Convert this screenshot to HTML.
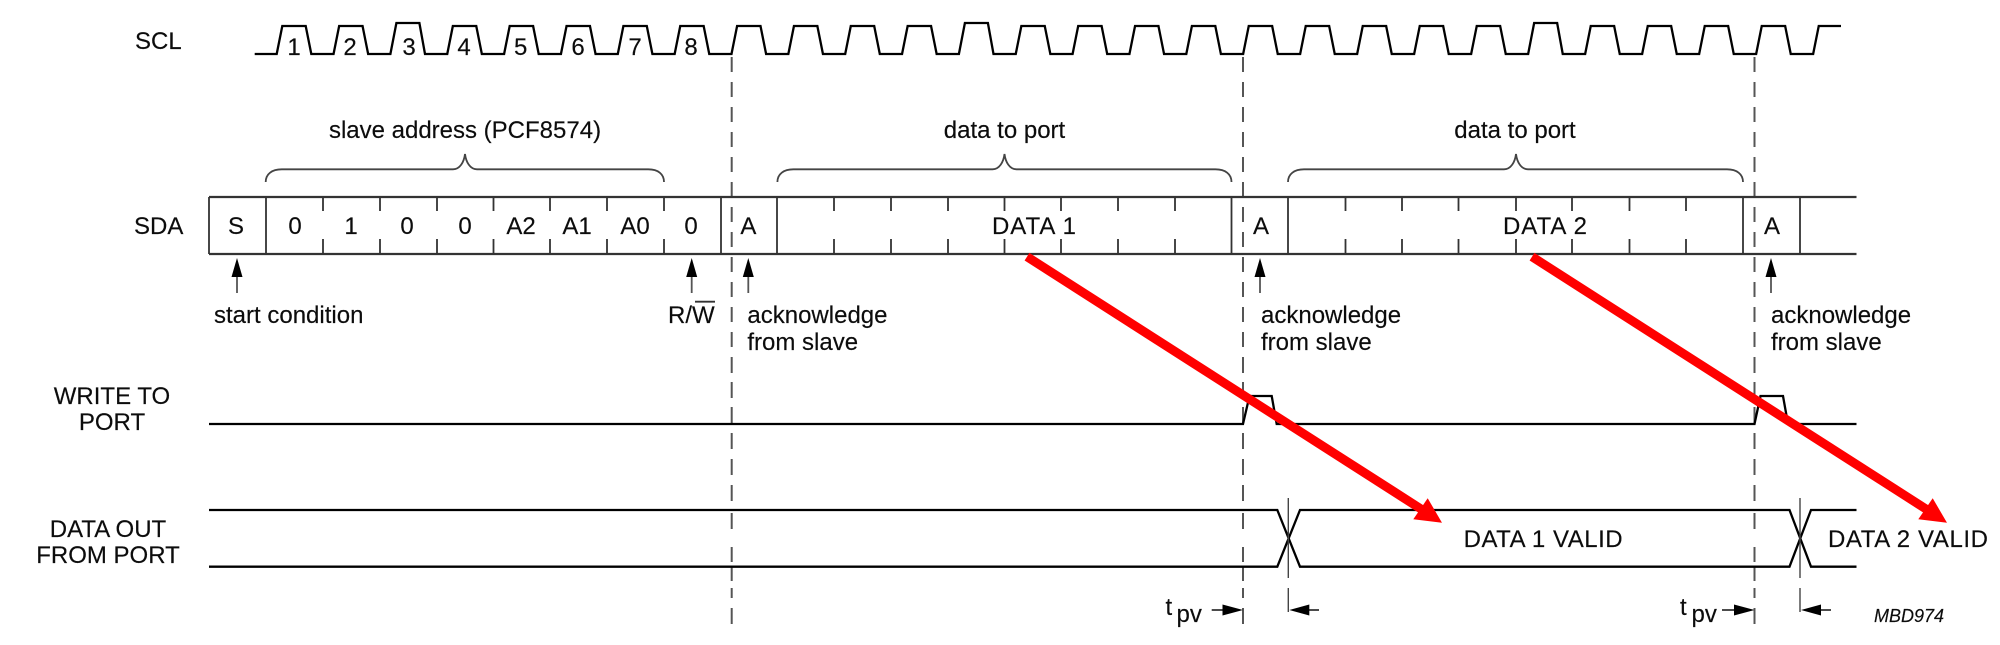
<!DOCTYPE html>
<html>
<head>
<meta charset="utf-8">
<style>
html,body{margin:0;padding:0;background:#fff;width:2000px;height:645px;overflow:hidden}
svg{display:block}
text{font-family:"Liberation Sans",sans-serif;font-size:24px;fill:#0c0c0c;stroke:#0c0c0c;stroke-width:.15px}
</style>
</head>
<body>
<svg width="2000" height="645" viewBox="0 0 2000 645" xmlns="http://www.w3.org/2000/svg">
<rect width="2000" height="645" fill="#fff"/>

<!-- dashed guides -->
<g stroke="#555" stroke-width="2" fill="none">
<path id="d1" d="M731.7 57v15M731.7 82v15M731.7 107v15M731.7 132v15M731.7 157v15M731.7 182v15M731.7 207v15M731.7 232v15M731.7 257v15M731.7 282v15M731.7 307v15M731.7 332v15M731.7 357v16M731.7 382v16M731.7 407v16M731.7 433v16M731.7 459v16M731.7 485v16M731.7 513v16M731.7 547v15M731.7 567v14M731.7 588v10M731.7 608v16"/>
<path d="M1243 57v15M1243 82v15M1243 107v15M1243 132v15M1243 157v15M1243 182v15M1243 207v15M1243 232v15M1243 257v15M1243 282v15M1243 307v15M1243 332v15M1243 357v16M1243 382v16M1243 407v16M1243 433v16M1243 459v16M1243 485v16M1243 513v16M1243 547v15M1243 567v14M1243 588v10M1243 608v16"/>
<path d="M1754.5 57v15M1754.5 82v15M1754.5 107v15M1754.5 132v15M1754.5 157v15M1754.5 182v15M1754.5 207v15M1754.5 232v15M1754.5 257v15M1754.5 282v15M1754.5 307v15M1754.5 332v15M1754.5 357v16M1754.5 382v16M1754.5 407v16M1754.5 433v16M1754.5 459v16M1754.5 485v16M1754.5 513v16M1754.5 547v15M1754.5 567v14M1754.5 588v10M1754.5 608v16"/>
</g>

<!-- SCL -->
<path fill="none" stroke="#000" stroke-width="2.3" stroke-linejoin="miter" d="M254.7 54H276.7
l5.6 -28h23.4l5.6 28h22.25
l5.6 -28h23.4l5.6 28h22.25
l6 -31h23l5.6 31h22.25
l5.6 -28h23.4l5.6 28h22.25
l5.6 -28h23.4l5.6 28h22.25
l5.6 -28h23.4l5.6 28h22.25
l5.6 -28h23.4l5.6 28h22.25
l5.6 -28h23.4l5.6 28h22.25
l5.6 -28h23.4l5.6 28h22.25
l5.6 -28h23.4l5.6 28h22.25
l5.6 -28h23.4l5.6 28h22.25
l5.6 -28h23.4l5.6 28h22.25
l6 -31h23l5.6 31h22.25
l5.6 -28h23.4l5.6 28h22.25
l5.6 -28h23.4l5.6 28h22.25
l5.6 -28h23.4l5.6 28h22.25
l5.6 -28h23.4l5.6 28h22.25
l5.6 -28h23.4l5.6 28h22.4
l5.6 -28h23.4l5.6 28h22.4
l5.6 -28h23.4l5.6 28h22.4
l5.6 -28h23.4l5.6 28h22.4
l5.6 -28h23.4l5.6 28h22.4
l6 -31h23l5.6 31h22.4
l5.6 -28h23.4l5.6 28h22.4
l5.6 -28h23.4l5.6 28h22.4
l5.6 -28h23.4l5.6 28h22.4
l5.6 -28h23.4l5.6 28h22.4
l5.6 -28H1841"/>

<!-- SDA box -->
<g stroke="#333" fill="none">
<path stroke-width="2.3" d="M209 197H1856.5M209 254H1856.5"/>
<path stroke-width="1.8" d="M209 197V254M266 197V254M721 197V254M777 197V254M1231.5 197V254M1288 197V254M1743 197V254M1800 197V254"/>
<path stroke-width="1.8" d="M323 197v14M323 239v15M380 197v14M380 239v15M437 197v14M437 239v15M493.5 197v14M493.5 239v15M550 197v14M550 239v15M607 197v14M607 239v15M664 197v14M664 239v15
M834 197v14M834 239v15M891 197v14M891 239v15M948 197v14M948 239v15M1004.5 197v14M1004.5 239v15M1061 197v14M1061 239v15M1118 197v14M1118 239v15M1175 197v14M1175 239v15
M1345.5 197v14M1345.5 239v15M1402 197v14M1402 239v15M1458.5 197v14M1458.5 239v15M1516 197v14M1516 239v15M1572 197v14M1572 239v15M1629.5 197v14M1629.5 239v15M1686 197v14M1686 239v15"/>
</g>

<!-- braces -->
<g stroke="#444" stroke-width="1.8" fill="none">
<path d="M265.7 182C265.7 174 272 169.3 281.7 169.3H453C460 169.3 464 162 465 154C466 162 470 169.3 477 169.3H648.3C658 169.3 664 174 664 182"/>
<path d="M777.4 182C777.4 174 783.7 169.3 793.4 169.3H992.5C999.5 169.3 1003.5 162 1004.5 154C1005.5 162 1009.5 169.3 1016.5 169.3H1215.5C1225.2 169.3 1231.5 174 1231.5 182"/>
<path d="M1288 182C1288 174 1294.3 169.3 1304 169.3H1504C1511 169.3 1515 162 1516 154C1517 162 1521 169.3 1528 169.3H1727C1736.7 169.3 1743 174 1743 182"/>
</g>

<!-- up arrows -->
<g stroke="#555" stroke-width="1.8" fill="none">
<path d="M237 276V293M691.7 276V293M748.3 276V293M1260 276V293M1771 276V293"/>
</g>
<g fill="#000">
<path d="M237 258l-5.5 19h11z"/>
<path d="M691.7 258l-5.5 19h11z"/>
<path d="M748.3 258l-5.5 19h11z"/>
<path d="M1260 258l-5.5 19h11z"/>
<path d="M1771 258l-5.5 19h11z"/>
</g>

<!-- write to port -->
<path fill="none" stroke="#000" stroke-width="2.3" d="M209 424H1243L1249.5 396H1271.7L1276.7 424H1754.5L1760.5 396H1783L1788 424H1856.5"/>

<!-- data out -->
<g fill="none" stroke="#000" stroke-width="2.3">
<path d="M209 510H1277.3L1300 566.7H1789.5L1811 510H1856.5"/>
<path d="M209 566.7H1277.3L1300 510H1789.5L1811 566.7H1856.5"/>
</g>
<g stroke="#444" stroke-width="1.4" fill="none">
<path d="M1288.3 498V578M1288.3 588V612M1800 498V578M1800 588V612"/>
</g>

<!-- tpv arrows -->
<g stroke="#333" stroke-width="1.8" fill="none">
<path d="M1211.7 610H1230M1300 610H1319M1722 610H1740M1812 610H1831"/>
</g>
<g fill="#000">
<path d="M1243 610l-20.5 -5.5v11z"/>
<path d="M1289.3 610l20 -5.5v11z"/>
<path d="M1754.5 610l-20.5 -5.5v11z"/>
<path d="M1801 610l20 -5.5v11z"/>
</g>

<!-- text -->
<text x="135" y="49">SCL</text>
<g text-anchor="middle">
<text x="294" y="55">1</text>
<text x="350" y="55">2</text>
<text x="409" y="55">3</text>
<text x="464" y="55">4</text>
<text x="520.7" y="55">5</text>
<text x="578" y="55">6</text>
<text x="635" y="55">7</text>
<text x="691" y="55">8</text>
<text x="465" y="138">slave address (PCF8574)</text>
<text x="1004.5" y="138">data to port</text>
<text x="1515" y="138">data to port</text>
<text x="236" y="234">S</text>
<text x="295" y="234">0</text>
<text x="351" y="234">1</text>
<text x="407" y="234">0</text>
<text x="465" y="234">0</text>
<text x="521" y="234">A2</text>
<text x="577" y="234">A1</text>
<text x="635" y="234">A0</text>
<text x="691" y="234">0</text>
<text x="748.4" y="234">A</text>
<text x="1261" y="234">A</text>
<text x="1772" y="234">A</text>
<text x="112" y="404">WRITE TO</text>
<text x="112" y="430">PORT</text>
<text x="108" y="537">DATA OUT</text>
<text x="108" y="563">FROM PORT</text>
</g>
<text x="992" y="234" textLength="84">DATA 1</text>
<text x="1503" y="234" textLength="84">DATA 2</text>
<text x="134" y="234">SDA</text>
<text x="214" y="323">start condition</text>
<text x="668" y="323">R/W</text>
<path d="M695 301.7H715" stroke="#333" stroke-width="1.8" fill="none"/>
<text x="747.4" y="323">acknowledge</text>
<text x="747.4" y="350">from slave</text>
<text x="1261" y="323">acknowledge</text>
<text x="1261" y="350">from slave</text>
<text x="1771" y="323">acknowledge</text>
<text x="1771" y="350">from slave</text>
<text x="1463.6" y="547" textLength="159">DATA 1 VALID</text>
<text x="1828" y="547" textLength="160">DATA 2 VALID</text>
<text x="1165.5" y="615">t</text>
<text x="1176.5" y="622">pv</text>
<text x="1680" y="615">t</text>
<text x="1691.5" y="622">pv</text>
<text x="1874" y="622" font-style="italic" style="font-size:18px" textLength="70" lengthAdjust="spacingAndGlyphs">MBD974</text>

<!-- red arrows -->
<g fill="#f00" stroke="none">
<path d="M1029.4 252.9L1024.6 260.5L1418.6 512.8L1423.4 505.2Z"/>
<path d="M1442 522.7L1427.7 498.3L1413.3 519.3Z"/>
<path d="M1534.4 252.9L1529.6 260.5L1923.6 512.8L1928.4 505.2Z"/>
<path d="M1947 522.7L1932.7 498.3L1918.3 519.3Z"/>
</g>
</svg>
</body>
</html>
